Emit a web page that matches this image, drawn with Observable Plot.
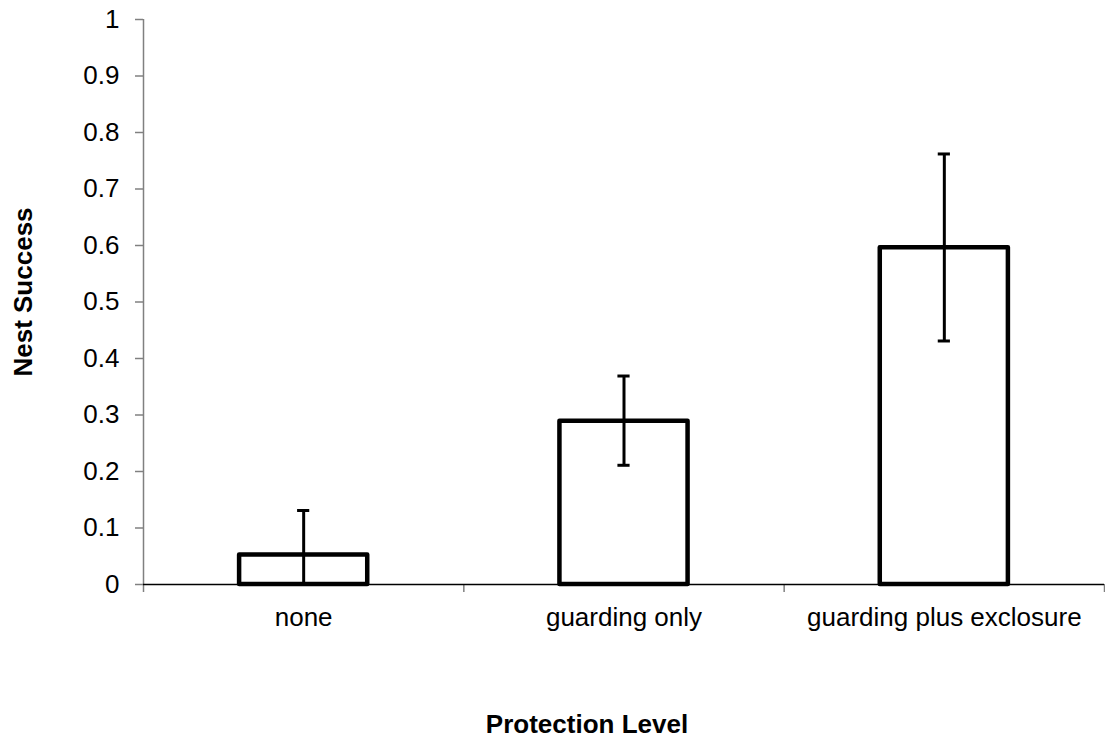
<!DOCTYPE html>
<html>
<head>
<meta charset="utf-8">
<script src="https://cdn.jsdelivr.net/npm/d3@7"></script>
<script src="https://cdn.jsdelivr.net/npm/@observablehq/plot@0.6"></script>
<style>
  body { margin: 0; background: #fff; }
</style>
</head>
<body>
<div id="chart"></div>
<script>
// Nest success by protection level, with error bars
const categories = ["none", "guarding only", "guarding plus exclosure"];
const success = [0.052, 0.289, 0.596];
const upper = [0.131, 0.369, 0.762];
const lower = [0, 0.211, 0.431];
const yTicks = [0, 0.1, 0.2, 0.3, 0.4, 0.5, 0.6, 0.7, 0.8, 0.9, 1];

const gapWidth = 1.5;                 // space between bars relative to bar width
const barFrac = 1 / (1 + gapWidth);   // share of each category slot taken by its bar
const capHalf = 0.019;                // half-width of error-bar caps (x units)

const rows = categories.map((c, i) => ({
  category: c,
  center: i + 0.5,
  value: success[i],
  lo: lower[i],
  hi: upper[i]
}));
const slotEdges = d3.range(categories.length + 1);

const chart = Plot.plot({
  width: 1105,
  height: 740,
  marginLeft: 143,
  marginRight: 1,
  marginTop: 19,
  marginBottom: 156,
  style: {
    fontFamily: '"Liberation Sans", Arial, sans-serif',
    fontSize: "26px",
    color: "#000",
    background: "#fff"
  },
  x: {domain: [0, categories.length]},
  y: {domain: [0, 1]},
  marks: [
    Plot.axisY(yTicks, {tickSize: 8, tickPadding: 16, tickFormat: d => String(d), stroke: "#808080", strokeWidth: 1.5, label: null}),
    Plot.ruleX([0], {stroke: "#808080", strokeWidth: 1.5}),
    Plot.axisX(slotEdges, {tickSize: 8, tickFormat: () => "", stroke: "#808080", strokeWidth: 1.5, label: null}),
    Plot.axisX(rows.map(r => r.center), {tickSize: 0, tickPadding: 23, tickFormat: v => categories[Math.floor(v)], label: null}),
    Plot.ruleY([0], {stroke: "#000", strokeWidth: 1.5}),
    Plot.rect(rows, {
      x1: d => d.center - barFrac / 2,
      x2: d => d.center + barFrac / 2,
      y1: 0,
      y2: "value",
      fill: "#fff",
      stroke: "#000",
      strokeWidth: 4.5,
      strokeLinejoin: "round"
    }),
    Plot.ruleX(rows, {x: "center", y1: "lo", y2: "hi", stroke: "#000", strokeWidth: 3}),
    Plot.ruleY(rows, {y: "hi", x1: d => d.center - capHalf, x2: d => d.center + capHalf, stroke: "#000", strokeWidth: 3}),
    Plot.ruleY(rows.filter(d => d.lo > 0), {y: "lo", x1: d => d.center - capHalf, x2: d => d.center + capHalf, stroke: "#000", strokeWidth: 3}),
    Plot.text(["Nest Success"], {text: d => d, frameAnchor: "left", textAnchor: "middle", lineAnchor: "middle", dx: -120, dy: -10, rotate: -90, fontWeight: "bold", fill: "#000"}),
    Plot.text(["Protection Level"], {text: d => d, frameAnchor: "bottom", textAnchor: "middle", lineAnchor: "bottom", dx: -37, dy: 148, fontWeight: "bold", fill: "#000"})
  ]
});

document.getElementById("chart").appendChild(chart);
</script>
</body>
</html>
